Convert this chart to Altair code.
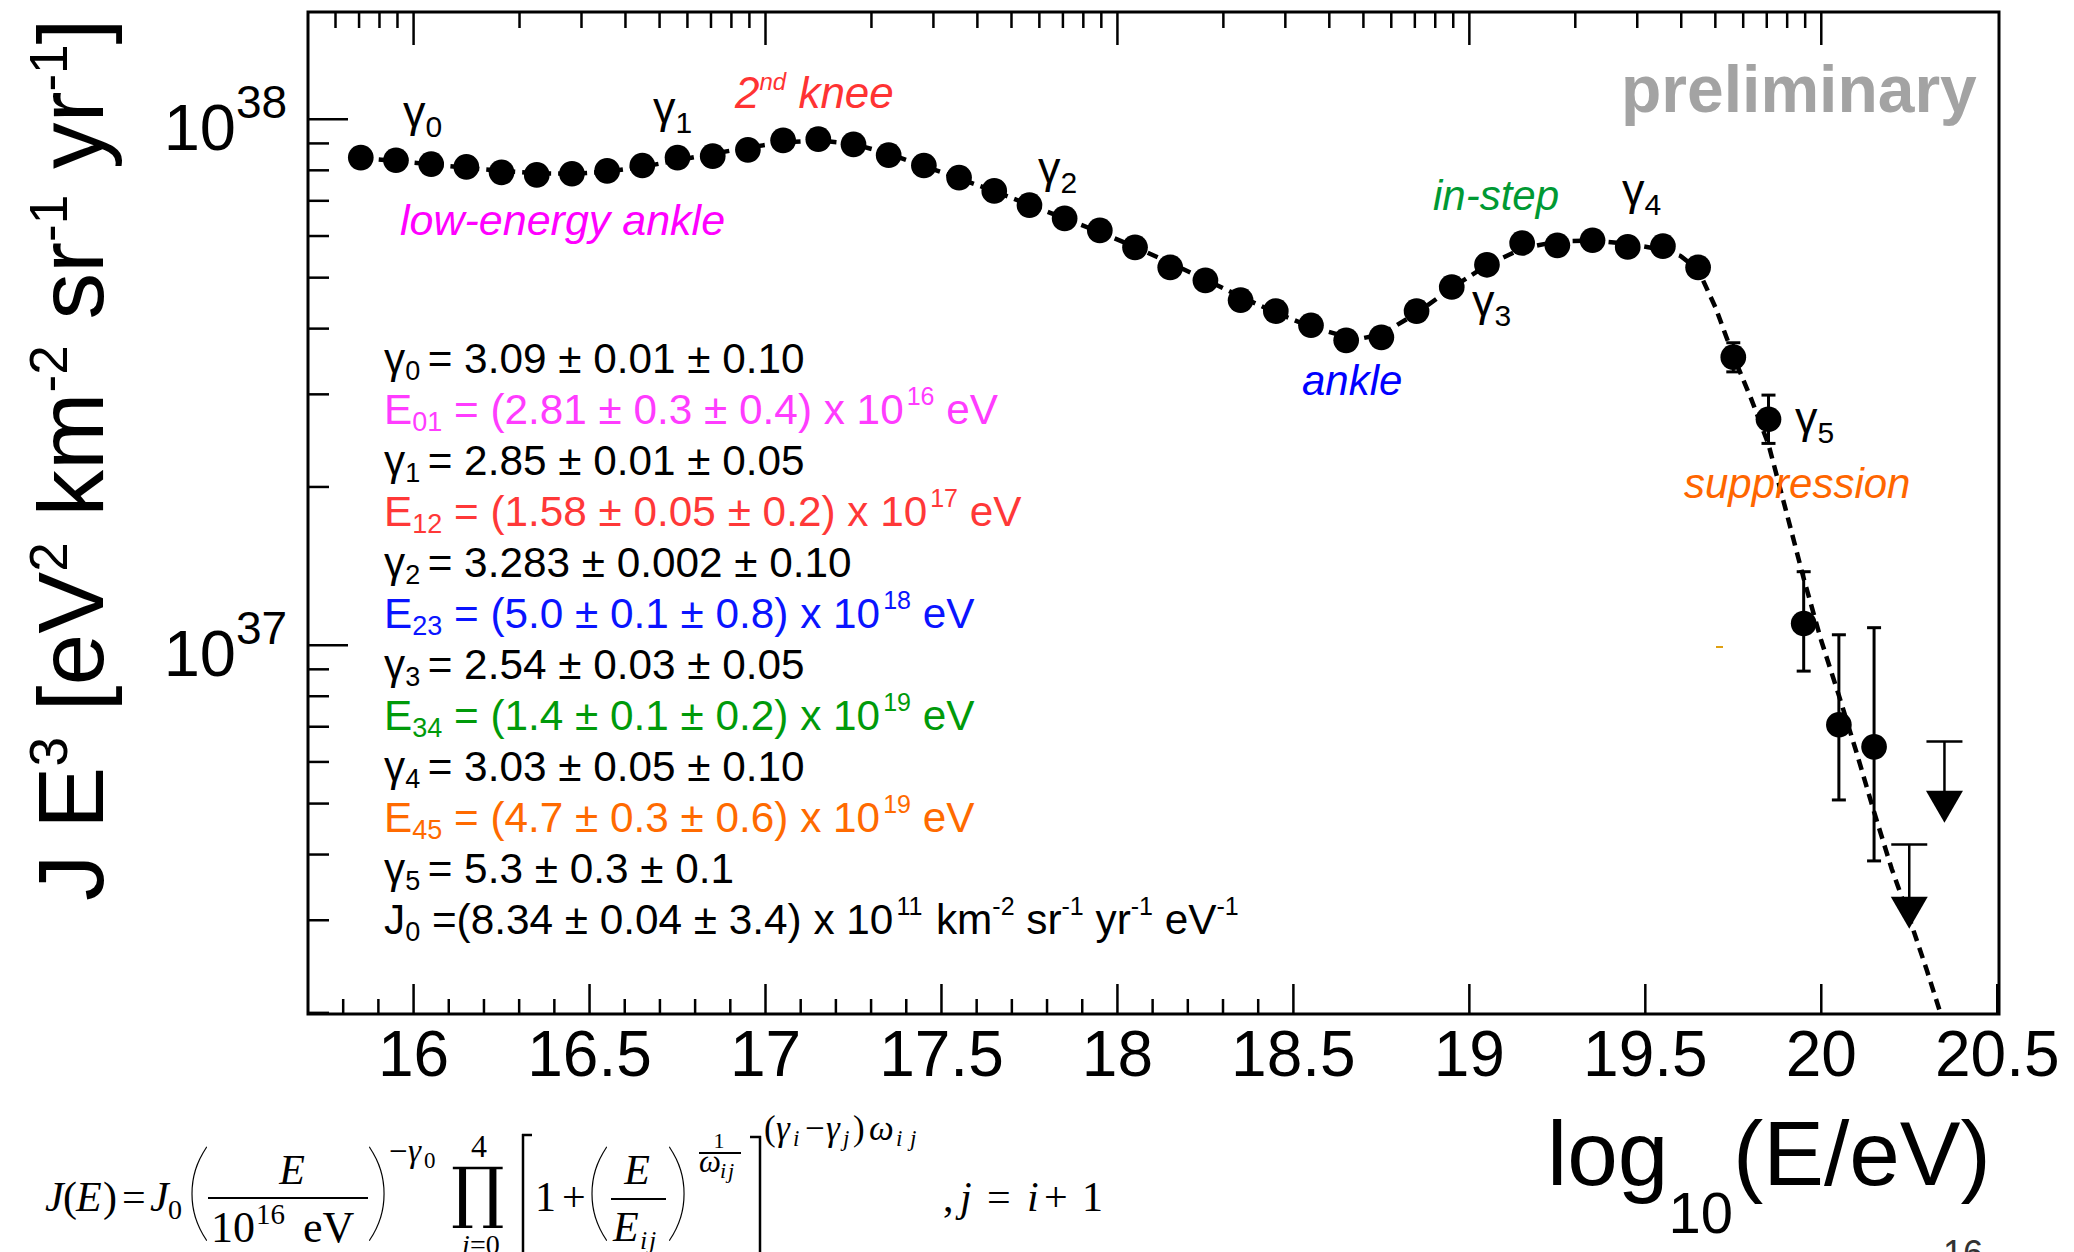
import math
import altair as alt
import pandas as pd

# ---------------- data ----------------
log_e = [15.85, 15.95, 16.05, 16.15, 16.25, 16.35, 16.45, 16.55, 16.65, 16.75,
         16.85, 16.95, 17.05, 17.15, 17.25, 17.35, 17.45, 17.55, 17.65, 17.75,
         17.85, 17.95, 18.05, 18.15, 18.25, 18.35, 18.45, 18.55, 18.65, 18.75,
         18.85, 18.95, 19.05, 19.15, 19.25, 19.35, 19.45, 19.55, 19.65, 19.75,
         19.85, 19.95, 20.05, 20.15]
flux = [8.46e37, 8.36e37, 8.22e37, 8.12e37, 7.93e37, 7.84e37, 7.88e37, 7.98e37, 8.17e37, 8.46e37,
        8.51e37, 8.75e37, 9.12e37, 9.17e37, 8.96e37, 8.55e37, 8.17e37, 7.75e37, 7.31e37, 6.87e37,
        6.48e37, 6.15e37, 5.71e37, 5.23e37, 4.94e37, 4.53e37, 4.32e37, 4.06e37, 3.80e37, 3.85e37,
        4.32e37, 4.80e37, 5.29e37, 5.82e37, 5.76e37, 5.89e37, 5.72e37, 5.74e37, 5.23e37, 3.53e37,
        2.69e37, 1.10e37, 7.06e36, 6.41e36]

err_e = [19.75, 19.85, 19.95, 20.05, 20.15]
err_lo = [3.31e37, 2.42e37, 8.93e36, 5.08e36, 3.89e36]
err_hi = [3.76e37, 2.99e37, 1.38e37, 1.047e37, 1.08e37]

ul_e = [20.25, 20.35]
ul_top = [4.18e36, 6.56e36]
ul_arrow = [3.10e36, 4.93e36]

fit_e = [15.85, 15.95, 16.05, 16.15, 16.25, 16.35, 16.45, 16.55, 16.65, 16.75,
         16.85, 16.95, 17.05, 17.15, 17.25, 17.35, 17.45, 17.55, 17.65, 17.75,
         17.85, 17.95, 18.05, 18.15, 18.25, 18.35, 18.45, 18.55, 18.65, 18.70,
         18.75, 18.85, 18.95, 19.05, 19.15, 19.25, 19.35, 19.45, 19.55, 19.60,
         19.65, 19.70, 19.75, 19.80, 19.85, 19.90, 19.95, 20.00, 20.05, 20.10,
         20.15, 20.20, 20.25, 20.30, 20.35]
fit_flux = [8.44e37, 8.33e37, 8.21e37, 8.09e37, 7.98e37, 7.90e37, 7.88e37, 7.95e37, 8.12e37, 8.36e37,
            8.60e37, 8.84e37, 9.04e37, 9.12e37, 8.98e37, 8.60e37, 8.15e37, 7.72e37, 7.30e37, 6.88e37,
            6.48e37, 6.10e37, 5.72e37, 5.33e37, 4.96e37, 4.60e37, 4.29e37, 4.03e37, 3.86e37, 3.84e37,
            3.90e37, 4.28e37, 4.78e37, 5.28e37, 5.68e37, 5.86e37, 5.88e37, 5.80e37, 5.65e37, 5.50e37,
            5.18e37, 4.38e37, 3.55e37, 2.95e37, 2.41e37, 1.80e37, 1.34e37, 1.02e37, 8.03e36, 6.26e36,
            4.82e36, 3.76e36, 3.03e36, 2.41e36, 1.89e36]

x_major = [16, 16.5, 17, 17.5, 18, 18.5, 19, 19.5, 20, 20.5]
x_labels = ["16", "16.5", "17", "17.5", "18", "18.5", "19", "19.5", "20", "20.5"]
y_major = [1e37, 1e38]
y_base = ["10", "10"]
y_exp = ["37", "38"]

# ---------------- geometry ----------------
W, H = 1691, 1002
OX, OY = 308, 12
xs = alt.Scale(domain=[15.7, 20.505], nice=False, zero=False)
ys = alt.Scale(type="log", domain=[1.99e36, 1.6e38], nice=False)


def X(f):
    return alt.X(f, type="quantitative", scale=xs, axis=None)


def Y(f):
    return alt.Y(f, type="quantitative", scale=ys, axis=None)


x_minor = [round(15.8 + 0.1 * i, 1) for i in range(27)]
x_minor = [v for v in x_minor if abs(v * 2 - round(v * 2)) > 1e-6]
top_major = [16, 17, 18, 19, 20]
top_minor = [15 + math.log10(k) for k in range(6, 10)] + \
            [n + math.log10(k) for n in range(16, 20) for k in range(2, 10)]
y_minor = [k * 1e36 for k in range(2, 10)] + [k * 1e37 for k in range(2, 10)]

BLACK = "#000000"
layers = []


def vrules(vals, y1, y2):
    return alt.Chart(pd.DataFrame({"v": vals})).mark_rule(color=BLACK, strokeWidth=2.5).encode(
        x=X("v"), y=alt.value(y1), y2=alt.value(y2))


layers.append(vrules(x_minor, H, H - 15))
layers.append(vrules(x_major, H, H - 30))
layers.append(vrules(top_minor, 0, 16))
layers.append(vrules(top_major, 0, 33))
layers.append(alt.Chart(pd.DataFrame({"v": y_minor})).mark_rule(color=BLACK, strokeWidth=2.5).encode(
    y=Y("v"), x=alt.value(0), x2=alt.value(21)))
layers.append(alt.Chart(pd.DataFrame({"v": y_major})).mark_rule(color=BLACK, strokeWidth=2.5).encode(
    y=Y("v"), x=alt.value(0), x2=alt.value(40)))

# tick labels
layers.append(alt.Chart(pd.DataFrame({"v": x_major, "lab": x_labels})).mark_text(
    font="Liberation Sans", fontSize=64, align="center", baseline="alphabetic", color=BLACK).encode(
    x=X("v"), y=alt.value(1076 - OY), text="lab:N"))
ydf = pd.DataFrame({"v": y_major, "b": y_base, "e": y_exp})
layers.append(alt.Chart(ydf).mark_text(
    font="Liberation Sans", fontSize=65, align="right", baseline="alphabetic", dy=31, color=BLACK).encode(
    x=alt.value(236 - OX), y=Y("v"), text="b:N"))
layers.append(alt.Chart(ydf).mark_text(
    font="Liberation Sans", fontSize=46, align="left", baseline="alphabetic", dy=-1, color=BLACK).encode(
    x=alt.value(236 - OX), y=Y("v"), text="e:N"))

# fit curve
layers.append(alt.Chart(pd.DataFrame({"e": fit_e, "f": fit_flux})).mark_line(
    color=BLACK, strokeWidth=4.5, strokeDash=[11, 7], clip=True).encode(x=X("e"), y=Y("f")))

# error bars
edf = pd.DataFrame({"e": err_e, "lo": err_lo, "hi": err_hi})
layers.append(alt.Chart(edf).mark_rule(color=BLACK, strokeWidth=3).encode(
    x=X("e"), y=Y("lo"), y2=alt.Y2("hi")))
for col in ["lo", "hi"]:
    layers.append(alt.Chart(edf).mark_tick(orient="horizontal", size=14, thickness=3, color=BLACK,
                                           opacity=1).encode(x=X("e"), y=Y(col)))

# upper limits
udf = pd.DataFrame({"e": ul_e, "top": ul_top, "arrow": ul_arrow})
layers.append(alt.Chart(udf).mark_rule(color=BLACK, strokeWidth=2.5).encode(
    x=X("e"), y=Y("top"), y2=alt.Y2("arrow")))
layers.append(alt.Chart(udf).mark_tick(orient="horizontal", size=36, thickness=2.5, color=BLACK,
                                       opacity=1).encode(x=X("e"), y=Y("top")))
layers.append(alt.Chart(udf).mark_point(shape="triangle-down", filled=True, size=1369, color=BLACK,
                                        opacity=1, strokeWidth=0).encode(x=X("e"), y=Y("arrow")))

# data points
layers.append(alt.Chart(pd.DataFrame({"e": log_e, "f": flux})).mark_point(
    shape="circle", filled=True, size=660, color=BLACK, opacity=1, strokeWidth=0).encode(
    x=X("e"), y=Y("f")))

# ---------------- text annotations ----------------
AR = {' ': 278, '(': 333, ')': 333, '+': 584, ',': 278, '-': 333, '.': 278, '/': 278,
      '=': 584, '[': 278, ']': 278, 'E': 667, 'J': 500, 'V': 667, 'a': 556, 'c': 500,
      'd': 556, 'e': 556, 'g': 556, 'i': 222, 'k': 500, 'l': 222, 'm': 833, 'n': 556,
      'o': 556, 'p': 556, 'r': 333, 's': 500, 't': 278, 'u': 556, 'x': 500, 'y': 500,
      '±': 584, 'γ': 500, 'j': 222}


def tw(s, size):
    return sum(AR.get(c, 556) for c in s) / 1000.0 * size


items = []


def add(t, x, y, size, color=BLACK, font="Liberation Sans", style="normal", weight="normal",
        align="left", angle=0):
    items.append(dict(t=t, px=x - OX, py=y - OY, s=size, c=color, font=font, style=style,
                      weight=weight, align=align, angle=angle))


def rich(segs, x, y, color, style="normal"):
    for txt, size, dy in segs:
        lead = len(txt) - len(txt.lstrip(' '))
        s = txt.strip(' ')
        if s:
            add(s, x + lead * 0.278 * size, y + dy, size, color, style=style)
        x += tw(txt, size)


# parameter block
F, S, P = 42.3, 27, 25
SUB, SUP = 7, -19
MAG, RED, BLU, GRN, ORA = "#FF3CFF", "#FF3838", "#0A14FF", "#009A0A", "#FF6A00"
param_lines = [
    ([("γ", F, 0), ("0 ", S, SUB), ("= 3.09 ± 0.01 ± 0.10", F, 0)], BLACK),
    ([("E", F, 0), ("01", S, SUB), (" = (2.81 ± 0.3 ± 0.4) x 10", F, 0), ("16", P, SUP), (" eV", F, 0)], MAG),
    ([("γ", F, 0), ("1 ", S, SUB), ("= 2.85 ± 0.01 ± 0.05", F, 0)], BLACK),
    ([("E", F, 0), ("12", S, SUB), (" = (1.58 ± 0.05 ± 0.2) x 10", F, 0), ("17", P, SUP), (" eV", F, 0)], RED),
    ([("γ", F, 0), ("2 ", S, SUB), ("= 3.283 ± 0.002 ± 0.10", F, 0)], BLACK),
    ([("E", F, 0), ("23", S, SUB), (" = (5.0 ± 0.1 ± 0.8) x 10", F, 0), ("18", P, SUP), (" eV", F, 0)], BLU),
    ([("γ", F, 0), ("3 ", S, SUB), ("= 2.54 ± 0.03 ± 0.05", F, 0)], BLACK),
    ([("E", F, 0), ("34", S, SUB), (" = (1.4 ± 0.1 ± 0.2) x 10", F, 0), ("19", P, SUP), (" eV", F, 0)], GRN),
    ([("γ", F, 0), ("4 ", S, SUB), ("= 3.03 ± 0.05 ± 0.10", F, 0)], BLACK),
    ([("E", F, 0), ("45", S, SUB), (" = (4.7 ± 0.3 ± 0.6) x 10", F, 0), ("19", P, SUP), (" eV", F, 0)], ORA),
    ([("γ", F, 0), ("5 ", S, SUB), ("= 5.3 ± 0.3 ± 0.1", F, 0)], BLACK),
    ([("J", F, 0), ("0", S, SUB), (" =(8.34 ± 0.04 ± 3.4) x 10", F, 0), ("11", P, SUP), (" km", F, 0),
      ("-2", P, SUP), (" sr", F, 0), ("-1", P, SUP), (" yr", F, 0), ("-1", P, SUP), (" eV", F, 0),
      ("-1", P, SUP)], BLACK),
]
for i, (segs, col) in enumerate(param_lines):
    rich(segs, 384, 373 + 51 * i, col)

# gamma labels in the plot
for k, (gx, gy) in enumerate([(403, 127), (653, 123), (1038, 183), (1472, 316), (1622, 205), (1795, 433)]):
    rich([("γ", 45, 0), (str(k), 30, 10)], gx, gy, BLACK)

# regime labels
rich([("2", 44, 0), ("nd", 24, -18), (" knee", 44, 0)], 735, 108, "#FF3333", style="italic")
add("low-energy ankle", 400, 235, 43, "#FF00FF", style="italic")
add("ankle", 1302, 395, 42, "#0000FF", style="italic")
add("in-step", 1433, 210, 42, "#009933", style="italic")
add("suppression", 1684, 498, 42, "#FF6600", style="italic")
add("preliminary", 1621, 112, 66, "#A3A3A3", weight="bold")
add("16", 1943, 1266, 36, "#333333")

# axis titles
x = 1547
for txt, size, yb in [("log", 91, 1185), ("10", 58, 1233), ("(E/eV)", 91, 1185)]:
    add(txt, x, yb, size)
    x += tw(txt, size)

y = 901
for txt, size, sup in [("J E", 93, False), ("3", 53, True), (" [eV", 93, False), ("2", 53, True),
                       (" km", 93, False), ("-2", 53, True), (" sr", 93, False), ("-1", 53, True),
                       (" yr", 93, False), ("-1", 53, True), ("]", 93, False)]:
    lead = len(txt) - len(txt.lstrip(' '))
    s = txt.strip(' ')
    add(s, 67 if sup else 103, y - lead * 0.278 * size, size, angle=270)
    y -= tw(txt, size)

# formula (serif)
SER = "Liberation Serif"
formula = [
    ("J", 45, 1211, 42, "italic"), ("(", 63, 1211, 42, "normal"), ("E", 76, 1211, 42, "italic"),
    (")", 103, 1211, 42, "normal"), ("=", 122, 1211, 42, "normal"), ("J", 150, 1211, 42, "italic"),
    ("0", 168, 1219, 28, "normal"),
    ("10", 211, 1242, 44, "normal"), ("16", 256, 1224, 29, "normal"), ("eV", 303, 1242, 44, "normal"),
    ("−", 389, 1162, 33, "normal"), ("γ", 408, 1162, 33, "italic"), ("0", 424, 1168, 23, "normal"),
    ("i", 462, 1254, 28, "italic"), ("=0", 470, 1254, 28, "normal"),
    ("1", 535, 1211, 42, "normal"), ("+", 562, 1211, 42, "normal"),
    ("E", 613, 1241, 42, "italic"), ("i", 640, 1249, 26, "italic"), ("j", 649, 1249, 26, "italic"),
    ("ω", 699, 1172, 31, "italic"), ("i", 720, 1178, 22, "italic"), ("j", 728, 1178, 22, "italic"),
    ("(", 764, 1140, 35, "normal"), ("γ", 776, 1140, 35, "italic"), ("i", 793, 1146, 23, "italic"),
    ("−", 805, 1140, 35, "normal"), ("γ", 826, 1140, 35, "italic"), ("j", 843, 1146, 23, "italic"),
    (")", 853, 1140, 35, "normal"), ("ω", 869, 1140, 35, "italic"), ("i", 896, 1146, 23, "italic"),
    ("j", 910, 1146, 23, "italic"),
    (",", 943, 1211, 42, "normal"), ("j", 960, 1211, 42, "italic"), ("=", 987, 1211, 42, "normal"),
    ("i", 1027, 1211, 42, "italic"), ("+", 1044, 1211, 42, "normal"), ("1", 1082, 1211, 42, "normal"),
]
for t, fx, fy, fs, st in formula:
    add(t, fx, fy, fs, font=SER, style=st)
for t, fx, fy, fs in [("E", 292, 1184, 42), ("E", 637, 1184, 42)]:
    add(t, fx, fy, fs, font=SER, style="italic", align="center")
add("4", 479, 1157, 32, font=SER, align="center")
add("1", 719, 1148, 22, font=SER, align="center")
add("∏", 478, 1215, 67, font="DejaVu Serif", align="center")
# large thin delimiters
for t, fx in [("(", 198), (")", 378), ("(", 598), (")", 678)]:
    add(t, fx, 1228, 108, font="Lato", weight="100", align="center")

tdf = pd.DataFrame(items)
for key, g in tdf.groupby(["font", "style", "weight", "align", "angle"]):
    font, style, weight, align, angle = key
    layers.append(alt.Chart(g.reset_index(drop=True)).mark_text(
        font=font, fontStyle=style, fontWeight=weight if weight != "100" else 100, align=align,
        baseline="alphabetic", angle=float(angle)).encode(
        x=alt.X("px:Q", scale=None, axis=None),
        y=alt.Y("py:Q", scale=None, axis=None),
        text="t:N",
        size=alt.Size("s:Q", scale=None, legend=None),
        color=alt.Color("c:N", scale=None, legend=None)))

# formula strokes (fraction bars, big brackets) and a small stray dash
segs = [
    (208, 1198, 368, 1198, BLACK, 2.2), (611, 1199, 666, 1199, BLACK, 2.2), (699, 1153, 741, 1153, BLACK, 1.8),
    (523, 1134, 523, 1262, BLACK, 2.5), (522, 1135, 532, 1135, BLACK, 2.5),
    (760, 1136, 760, 1262, BLACK, 2.5), (750, 1137, 761, 1137, BLACK, 2.5),
    (1716, 647, 1723, 647, "#E0A010", 2.0),
]
sdf = pd.DataFrame([dict(x1=a - OX, y1=b - OY, x2=c - OX, y2=d - OY, c=col, w=w) for a, b, c, d, col, w in segs])
layers.append(alt.Chart(sdf).mark_rule().encode(
    x=alt.X("x1:Q", scale=None, axis=None), y=alt.Y("y1:Q", scale=None, axis=None),
    x2="x2:Q", y2="y2:Q",
    color=alt.Color("c:N", scale=None, legend=None),
    strokeWidth=alt.StrokeWidth("w:Q", scale=None, legend=None)))

chart = alt.layer(*layers).properties(
    width=W, height=H,
    autosize=alt.AutoSizeParams(type="none"),
    padding={"left": OX, "top": OY, "right": 2074 - OX - W, "bottom": 1252 - OY - H},
    background="white",
).configure_view(stroke=BLACK, strokeWidth=3, fill="white")

chart.save("out.html", embed_options={"renderer": "svg", "actions": False})
